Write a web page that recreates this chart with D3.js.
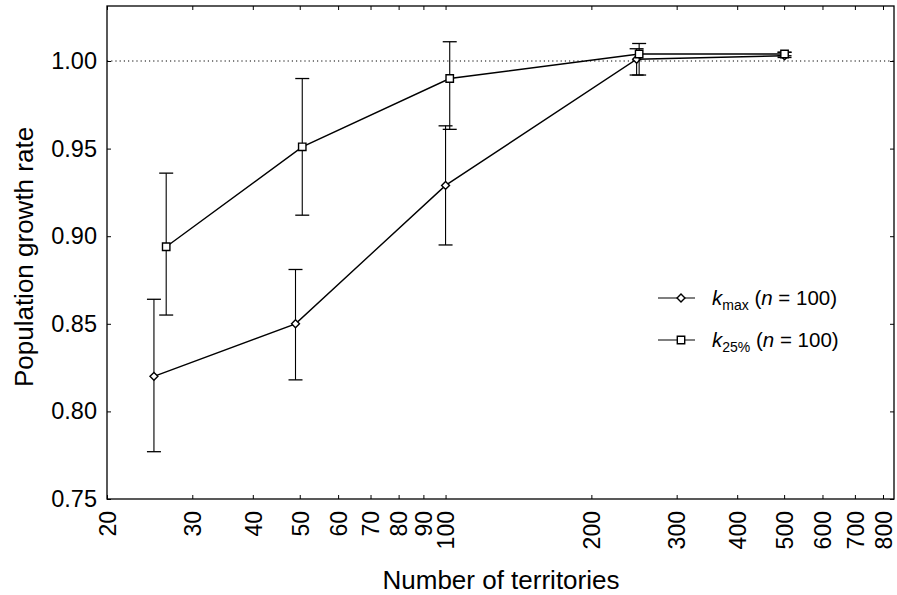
<!DOCTYPE html>
<html><head><meta charset="utf-8">
<script src="https://cdn.jsdelivr.net/npm/d3@7"></script>
<style>body{margin:0;background:#fff}svg{display:block}text{font-family:"Liberation Sans",Arial,sans-serif;fill:#000}</style>
</head><body><svg id="c" width="897" height="595"></svg>
<script>
const xTicks = [20,30,40,50,60,70,80,90,100,200,300,400,500,600,700,800];
const yTicks = [0.75,0.80,0.85,0.90,0.95,1.00];
const kmaxX = [25, 49, 100, 248, 501];
const kmaxY = [0.820, 0.850, 0.929, 1.001, 1.003];
const kmaxLo = [0.777, 0.818, 0.895, 0.992, 1.002];
const kmaxHi = [0.864, 0.881, 0.963, 1.007, 1.005];
const k25X = [26.5, 50.6, 102, 251, 501];
const k25Y = [0.894, 0.951, 0.990, 1.004, 1.004];
const k25Lo = [0.855, 0.912, 0.961, 0.992, 1.003];
const k25Hi = [0.936, 0.990, 1.011, 1.010, 1.005];

const svg = d3.select("#c");
const L=107, R=894, T=6, B=499;
const x = d3.scaleLog().domain([20, 843]).range([L, R]);
const y = d3.scaleLinear().domain([0.75, 1.0314]).range([B, T]);

// frame
svg.append("rect").attr("x",L).attr("y",T).attr("width",R-L).attr("height",B-T)
  .attr("fill","none").attr("stroke","#000").attr("stroke-width",1.3);

// reference line at 1
svg.append("line").attr("x1",L).attr("x2",R).attr("y1",y(1)).attr("y2",y(1))
  .attr("stroke","#000").attr("stroke-width",1).attr("stroke-dasharray","1.2,3");

const fmt = d3.format(".2f");
// axes
const yAx = svg.append("g").attr("transform",`translate(${L},0)`)
  .call(d3.axisLeft(y).tickValues(yTicks).tickFormat(fmt).tickSizeInner(-4).tickSizeOuter(0).tickPadding(10));
yAx.select(".domain").remove();
yAx.selectAll("text").attr("font-size",23.5);
const yAxR = svg.append("g").attr("transform",`translate(${R},0)`)
  .call(d3.axisRight(y).tickValues(yTicks).tickSizeInner(-4).tickSizeOuter(0).tickFormat(""));
yAxR.select(".domain").remove();

const xAx = svg.append("g").attr("transform",`translate(0,${B})`)
  .call(d3.axisBottom(x).tickValues(xTicks).tickFormat(d3.format("d")).tickSizeInner(-4).tickSizeOuter(0));
xAx.select(".domain").remove();
xAx.selectAll("text").attr("font-size",23).attr("transform","rotate(-90)")
  .attr("text-anchor","end").attr("x",-12).attr("y",0).attr("dy","0.36em");
const xAxT = svg.append("g").attr("transform",`translate(0,${T})`)
  .call(d3.axisTop(x).tickValues(xTicks).tickSizeInner(-4).tickSizeOuter(0).tickFormat(""));
xAxT.select(".domain").remove();

// titles
svg.append("text").attr("x",501).attr("y",589).attr("text-anchor","middle").attr("font-size",26).text("Number of territories");
svg.append("text").attr("transform","translate(33,257) rotate(-90)").attr("text-anchor","middle").attr("font-size",26).text("Population growth rate");

function series(X,Y,Lo,Hi,shape){
  const g = svg.append("g");
  const pts = X.map((d,i)=>[x(d),y(Y[i])]);
  g.append("path").attr("d",d3.line()(pts)).attr("fill","none").attr("stroke","#000").attr("stroke-width",1.4);
  X.forEach((d,i)=>{
    const cx=x(d);
    g.append("line").attr("x1",cx).attr("x2",cx).attr("y1",y(Lo[i])).attr("y2",y(Hi[i])).attr("stroke","#000").attr("stroke-width",1.1);
    [Lo[i],Hi[i]].forEach(v=>g.append("line").attr("x1",cx-7).attr("x2",cx+7).attr("y1",y(v)).attr("y2",y(v)).attr("stroke","#000").attr("stroke-width",1.3));
  });
  const sym = d3.symbol().type(shape==="d"?d3.symbolDiamond2:d3.symbolSquare2).size(shape==="d"?40:70);
  g.selectAll(".m").data(pts).join("path").attr("transform",d=>`translate(${d[0]},${d[1]})`)
    .attr("d",sym).attr("fill","#fff").attr("stroke","#000").attr("stroke-width",1.4);
}
series(kmaxX,kmaxY,kmaxLo,kmaxHi,"d");
series(k25X,k25Y,k25Lo,k25Hi,"s");

// legend
const leg = [{y:298, s:"d", sub:"max"},{y:340, s:"s", sub:"25%"}];
leg.forEach(l=>{
  svg.append("line").attr("x1",658).attr("x2",695).attr("y1",l.y).attr("y2",l.y).attr("stroke","#000").attr("stroke-width",1.2);
  const sym = d3.symbol().type(l.s==="d"?d3.symbolDiamond2:d3.symbolSquare2).size(l.s==="d"?40:70);
  svg.append("path").attr("transform",`translate(681,${l.y})`).attr("d",sym).attr("fill","#fff").attr("stroke","#000").attr("stroke-width",1.4);
  const t = svg.append("text").attr("x",712).attr("y",l.y+7).attr("font-size",20.5);
  t.append("tspan").attr("font-style","italic").text("k");
  t.append("tspan").attr("font-size",14).attr("dy",5).text(l.sub);
  t.append("tspan").attr("dy",-5).text(" (");
  t.append("tspan").attr("font-style","italic").text("n");
  t.append("tspan").text(" = 100)");
});
</script></body></html>
